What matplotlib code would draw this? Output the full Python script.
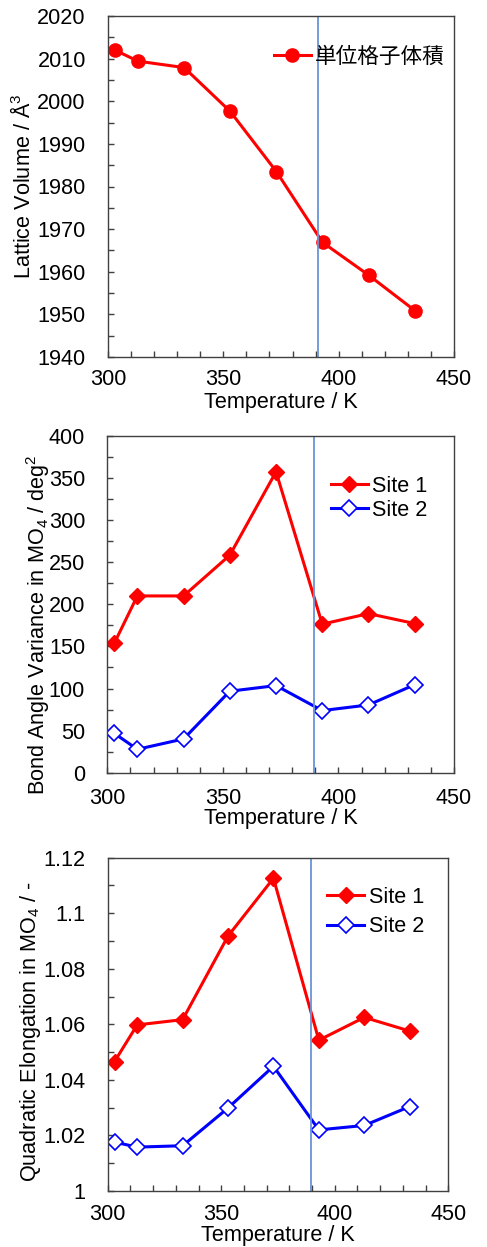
import matplotlib
matplotlib.use("Agg")
import matplotlib.pyplot as plt
from matplotlib.ticker import MultipleLocator

plt.rcParams['font.family'] = ['Liberation Sans', 'Noto Sans CJK JP', 'DejaVu Sans']
plt.rcParams['mathtext.fontset'] = 'custom'
plt.rcParams['mathtext.rm'] = 'Liberation Sans'
plt.rcParams['mathtext.it'] = 'Liberation Sans:italic'
plt.rcParams['mathtext.default'] = 'regular'

# data
temps = [303, 313, 333, 353, 373, 393, 413, 433]
volume = [2012.0, 2009.4, 2007.9, 1997.6, 1983.5, 1966.9, 1959.2, 1950.9]
bav_site1 = [153.7, 210.0, 210.0, 258.4, 357.5, 176.5, 189.0, 177.2]
bav_site2 = [46.8, 27.8, 40.1, 96.8, 103.5, 73.8, 80.5, 104.6]
qe_site1 = [1.0466, 1.0598, 1.0617, 1.0918, 1.1126, 1.0543, 1.0625, 1.0576]
qe_site2 = [1.0176, 1.0158, 1.0163, 1.0299, 1.0449, 1.0220, 1.0236, 1.0304]
transition = [391, 389.5, 389.5]

FS = 15.6
SPINE = '#404040'
VLINE = '#6A93D8'


def style_axes(ax, ymin, ymax, ymajor, yminor, xpad=9, xlabelpad=-1):
    ax.set_xlim(300, 450)
    ax.set_ylim(ymin, ymax)
    ax.xaxis.set_major_locator(MultipleLocator(50))
    ax.xaxis.set_minor_locator(MultipleLocator(10))
    ax.yaxis.set_major_locator(MultipleLocator(ymajor))
    ax.yaxis.set_minor_locator(MultipleLocator(yminor))
    ax.tick_params(which='both', direction='in', top=False, right=False,
                   color=SPINE, width=1.0, labelsize=FS)
    ax.tick_params(which='major', length=4)
    ax.tick_params(which='minor', length=4)
    ax.yaxis.set_tick_params(which='major', pad=16)
    ax.xaxis.set_tick_params(which='major', pad=xpad)
    for s in ax.spines.values():
        s.set_color(SPINE)
        s.set_linewidth(1.0)
    ax.set_xlabel('Temperature / K', fontsize=FS, labelpad=xlabelpad)


fig = plt.figure(figsize=(4.87, 12.47), dpi=100)

# panel 1: lattice volume
ax1 = fig.add_axes([108 / 487, 1 - 357 / 1247, 346 / 487, 341 / 1247])
ax1.plot(temps, volume, color='#FF0000', lw=2.2, marker='o', ms=9.5,
         label='単位格子体積')
ax1.axvline(transition[0], color=VLINE, lw=1.3)
style_axes(ax1, 1940, 2020, 10, 5, xpad=9, xlabelpad=1)
ax1.set_ylabel('Lattice Volume / Å$^3$', fontsize=FS)
ax1.yaxis.set_label_coords(-0.21, 0.5)
ax1.legend(loc='upper left', bbox_to_anchor=(0.48, 0.909), frameon=False,
           fontsize=FS, handlelength=1.7, handletextpad=0.2,
           borderpad=0, borderaxespad=0)

# panel 2: bond angle variance
ax2 = fig.add_axes([107.3 / 487, 1 - 772.7 / 1247, 346.7 / 487, 336.7 / 1247])
ax2.plot(temps, bav_site1, color='#FF0000', lw=2.2, marker='D', ms=8.5,
         label='Site 1')
ax2.plot(temps, bav_site2, color='#0000FF', lw=2.2, marker='D', ms=8.5,
         mfc='white', mec='#0000FF', mew=1.2, label='Site 2')
ax2.axvline(transition[1], color=VLINE, lw=1.3)
style_axes(ax2, 0, 400, 50, 25, xpad=11, xlabelpad=-1)
ax2.set_ylabel('Bond Angle Variance in MO$_4$ / deg$^2$', fontsize=FS)
ax2.yaxis.set_label_coords(-0.16, 0.44)
ax2.legend(loc='upper left', bbox_to_anchor=(0.645, 0.882), frameon=False,
           fontsize=FS, handlelength=1.7, handletextpad=0.2, labelspacing=0.15,
           borderpad=0, borderaxespad=0)

# panel 3: quadratic elongation
ax3 = fig.add_axes([107.7 / 487, 1 - 1191 / 1247, 340.6 / 487, 333.3 / 1247])
ax3.plot(temps, qe_site1, color='#FF0000', lw=2.2, marker='D', ms=8.5,
         label='Site 1')
ax3.plot(temps, qe_site2, color='#0000FF', lw=2.2, marker='D', ms=8.5,
         mfc='white', mec='#0000FF', mew=1.2, label='Site 2')
ax3.axvline(transition[2], color=VLINE, lw=1.3)
style_axes(ax3, 1.0, 1.12, 0.02, 0.01, xpad=9, xlabelpad=0)
ax3.yaxis.set_major_formatter(plt.FuncFormatter(lambda v, p: ('%.2f' % v).rstrip('0').rstrip('.')))
ax3.set_ylabel('Quadratic Elongation in MO$_4$ / -', fontsize=FS)
ax3.yaxis.set_label_coords(-0.19, 0.48)
ax3.legend(loc='upper left', bbox_to_anchor=(0.645, 0.9135), frameon=False,
           fontsize=FS, handlelength=1.7, handletextpad=0.2, labelspacing=0.41,
           borderpad=0, borderaxespad=0)

fig.savefig('out.png', dpi=100)
